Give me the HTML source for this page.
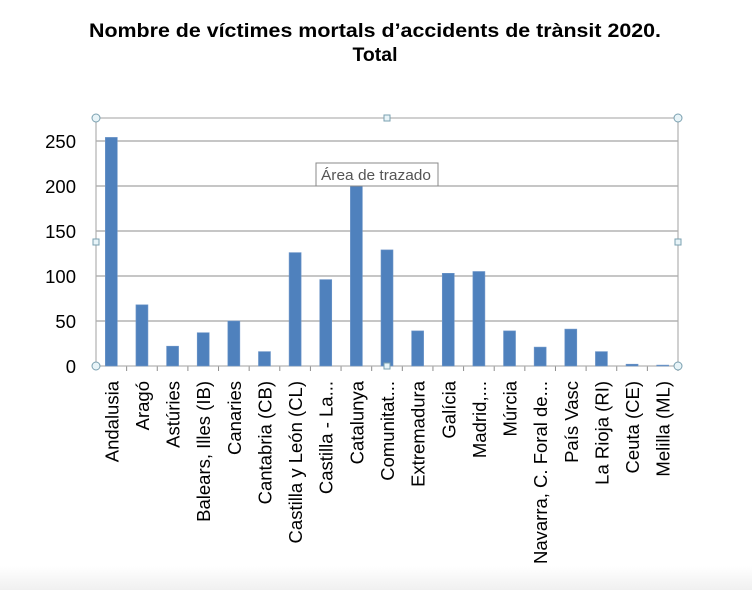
<!DOCTYPE html>
<html><head><meta charset="utf-8"><style>
html,body{margin:0;padding:0;background:#fff;}
svg{display:block}
</style></head><body>
<svg id="s" width="752" height="590" xmlns="http://www.w3.org/2000/svg">
<defs><linearGradient id="g" x1="0" y1="0" x2="0" y2="1"><stop offset="0" stop-color="#fff"/><stop offset="1" stop-color="#f0f0f0"/></linearGradient></defs>
<rect x="0" y="566" width="752" height="24" fill="url(#g)"/>
<text x="375" y="37" font-family="Liberation Sans, Arial, sans-serif" font-weight="bold" font-size="19" text-anchor="middle" textLength="572" lengthAdjust="spacingAndGlyphs">Nombre de víctimes mortals d’accidents de trànsit 2020.</text>
<text x="375" y="61" font-family="Liberation Sans, Arial, sans-serif" font-weight="bold" font-size="19" text-anchor="middle" textLength="45" lengthAdjust="spacingAndGlyphs">Total</text>
<g id="grid"></g>
<rect x="96" y="118" width="582" height="248" fill="none" stroke="#b0b0b0" stroke-width="1.2"/>
<g id="bars"></g>
<g id="labels" font-family="Liberation Sans, DejaVu Sans, sans-serif" font-size="18.5" fill="#000"></g>
<g id="ylab" font-family="Liberation Sans, DejaVu Sans, sans-serif" font-size="18.5" fill="#000" text-anchor="end"></g>
<rect x="316" y="163" width="122" height="23" fill="#fff" stroke="#888"/>
<text x="321" y="180" font-family="Liberation Sans, DejaVu Sans, sans-serif" font-size="14.5" fill="#555" textLength="110" lengthAdjust="spacingAndGlyphs">Área de trazado</text>
<g fill="#e8f4f8" stroke="#7aa0b0">
<circle cx="96" cy="118" r="4"/><circle cx="678" cy="118" r="4"/><circle cx="96" cy="366" r="4"/><circle cx="678" cy="366" r="4"/>
<rect x="384" y="115" width="6" height="6"/><rect x="384" y="363" width="6" height="6"/><rect x="93" y="239" width="6" height="6"/><rect x="675" y="239" width="6" height="6"/>
</g>
</svg>
<script>
var ns="http://www.w3.org/2000/svg";
function el(t,a,p,txt){var e=document.createElementNS(ns,t);for(var k in a)e.setAttribute(k,a[k]);if(txt!==undefined)e.textContent=txt;document.getElementById(p).appendChild(e);return e;}
for(var v=0;v<=250;v+=50){var y=366-v*0.9;if(v>0)el("line",{x1:96,x2:678,y1:y,y2:y,stroke:"#8c8c8c","stroke-width":1},"grid");el("text",{x:76,y:y+7},"ylab",String(v));}
var d=[["Andalusia",254],["Aragó",68],["Astúries",22],["Balears, Illes (IB)",37],["Canaries",50],["Cantabria (CB)",16],["Castilla y León (CL)",126],["Castilla - La...",96],["Catalunya",200],["Comunitat...",129],["Extremadura",39],["Galícia",103],["Madrid,...",105],["Múrcia",39],["Navarra, C. Foral de...",21],["País Vasc",41],["La Rioja (RI)",16],["Ceuta (CE)",2],["Melilla (ML)",1]];
var w=582/19;
for(var i=0;i<19;i++){var c=96+w*(i+0.5),h=d[i][1]*0.9;
el("rect",{x:c-6,y:366-h,width:12,height:h,fill:"#4f81bd",stroke:"#6f97c9","stroke-width":0.6},"bars");
var tx=96+w*(i+1);el("line",{x1:tx,x2:tx,y1:366,y2:371,stroke:"#8c8c8c"},"grid");
el("text",{x:0,y:0,"text-anchor":"end",transform:"translate("+(c+7)+",381) rotate(-90)"},"labels",d[i][0]);}
</script>
</body></html>
